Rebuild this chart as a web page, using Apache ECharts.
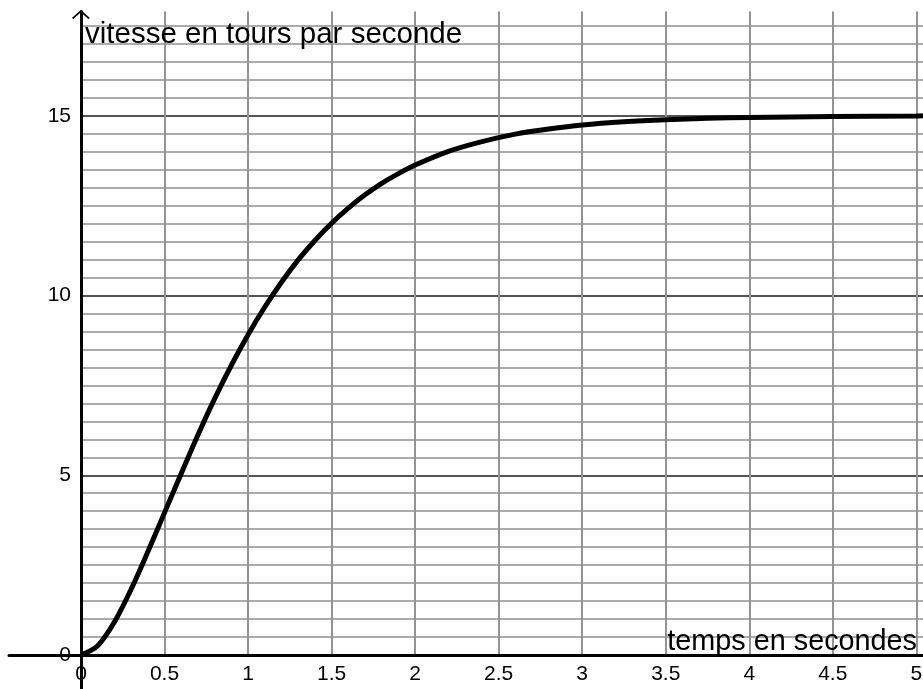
<!DOCTYPE html>
<html>
<head>
<meta charset="utf-8">
<script src="https://cdn.jsdelivr.net/npm/echarts@6/dist/echarts.min.js"></script>
<style>
  html, body { margin: 0; padding: 0; background: #fff; }
  #chart { width: 923px; height: 689px; }
</style>
</head>
<body>
<div id="chart"></div>
<script>
// temps (s) et vitesse (tr/s)
const temps = [0, 0.1, 0.2, 0.3, 0.4, 0.5, 0.6, 0.7, 0.8, 0.9, 1.0,
  1.1, 1.2, 1.3, 1.4, 1.5, 1.6, 1.7, 1.8, 1.9, 2.0,
  2.2, 2.4, 2.6, 2.8, 3.0, 3.25, 3.5, 3.75, 4.0, 4.5, 5.0, 5.04]
const vitesse = [0, 0.26, 0.92, 1.83, 2.87, 3.96, 5.05, 6.12, 7.13, 8.06, 8.91,
  9.68, 10.37, 10.99, 11.53, 12.01, 12.43, 12.80, 13.12, 13.39, 13.63,
  14.01, 14.28, 14.49, 14.63, 14.74, 14.83, 14.89, 14.93, 14.95, 14.98, 14.99, 15.0]

const xTicks = ['0', '0.5', '1', '1.5', '2', '2.5', '3', '3.5', '4', '4.5', '5']
const yTicks = ['0', '5', '10', '15']

const font = 'Liberation Sans, Arial, sans-serif'
const xMax = 5.04
const yMax = 17.9

// lignes horizontales : plus foncees tous les 5, rien a la ligne du max
const hColors = []
for (let i = 0; i <= 35; i++) {
  hColors.push(i % 10 === 0 ? '#555555' : '#ababab')
}
hColors.push('rgba(0,0,0,0)')

const chart = echarts.init(document.getElementById('chart'))

chart.setOption({
  backgroundColor: '#ffffff',
  animation: false,
  title: [
    {
      text: 'vitesse en tours par seconde',
      left: 85,
      top: 20,
      padding: 0,
      textStyle: { fontSize: 29.5, fontWeight: 'normal', color: '#000', fontFamily: font }
    },
    {
      text: 'temps en secondes',
      right: 6,
      top: 628,
      padding: 0,
      textStyle: { fontSize: 28.8, fontWeight: 'normal', color: '#000', fontFamily: font }
    }
  ],
  grid: [
    // quadrillage + courbe
    { left: 81, right: 0, top: 11.5, bottom: 34, outerBoundsMode: 'none', containLabel: false },
    // axes qui depassent a gauche et en bas
    { left: 9, right: 0, top: 11.5, bottom: 0, outerBoundsMode: 'none', containLabel: false }
  ],
  xAxis: [
    {
      type: 'value',
      gridIndex: 0,
      min: 0,
      max: xMax,
      interval: 0.5,
      axisLine: { show: false },
      axisTick: { show: false },
      axisLabel: {
        margin: 9,
        fontSize: 21,
        color: '#000',
        fontFamily: font,
        formatter: function (v) {
          const s = String(Math.round(v * 100) / 100)
          return xTicks.indexOf(s) >= 0 ? s : ''
        }
      },
      splitLine: {
        show: true,
        showMaxLine: false,
        lineStyle: { color: '#939393', width: 2 }
      }
    },
    {
      type: 'value',
      gridIndex: 1,
      min: -0.43,
      max: xMax,
      axisLine: { onZero: true, lineStyle: { color: '#000', width: 3 } },
      axisTick: { show: false },
      axisLabel: { show: false },
      splitLine: { show: false }
    }
  ],
  yAxis: [
    {
      type: 'value',
      gridIndex: 0,
      min: 0,
      max: yMax,
      interval: 0.5,
      axisLine: { show: false },
      axisTick: { show: false },
      axisLabel: {
        margin: 10,
        fontSize: 21,
        color: '#000',
        fontFamily: font,
        formatter: function (v) {
          const s = String(Math.round(v * 100) / 100)
          return yTicks.indexOf(s) >= 0 ? s : ''
        }
      },
      splitLine: {
        show: true,
        lineStyle: { color: hColors, width: 2 }
      }
    },
    {
      type: 'value',
      gridIndex: 1,
      min: -0.95,
      max: yMax,
      axisLine: {
        onZero: true,
        symbol: ['none', 'path://M0,45 L50,0 L100,45 L92,50 L50,13 L8,50 Z'],
        symbolSize: [18, 9],
        symbolOffset: [0, -3],
        lineStyle: { color: '#000', width: 3 }
      },
      axisTick: { show: false },
      axisLabel: { show: false },
      splitLine: { show: false }
    }
  ],
  series: [
    {
      name: 'vitesse',
      type: 'line',
      xAxisIndex: 0,
      yAxisIndex: 0,
      data: temps.map((t, i) => [t, vitesse[i]]),
      smooth: 0.3,
      showSymbol: false,
      clip: false,
      lineStyle: { color: '#000', width: 5 },
      z: 5
    }
  ]
})
</script>
</body>
</html>
